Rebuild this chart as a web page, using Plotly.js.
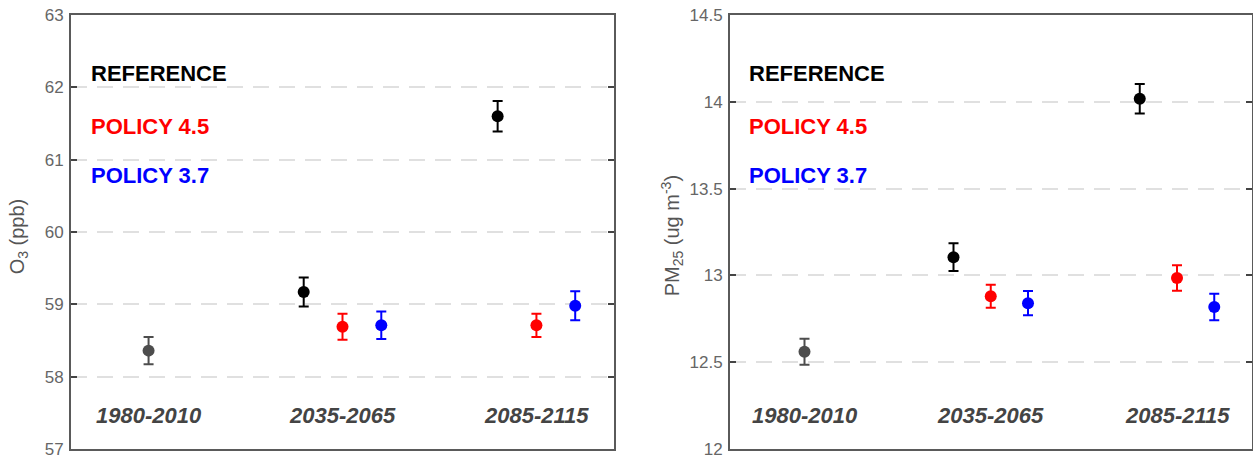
<!DOCTYPE html>
<html>
<head>
<meta charset="utf-8">
<script src="https://cdn.plot.ly/plotly-3.0.1.min.js"></script>
<style>html,body{margin:0;padding:0;background:#fff;}#chart{width:1253px;height:461px;}</style>
</head>
<body>
<div id="chart"></div>
<script>
// ---- data ----
const categories = ['1980-2010', '2035-2065', '2085-2115'];
const seriesNames = ['REFERENCE', 'POLICY 4.5', 'POLICY 3.7'];

// O3 (ppb)
const o3Baseline = 58.36;      const o3BaselineErr = 0.19;
const o3Reference = [59.17, 61.60]; const o3ReferenceErr = [0.20, 0.21];
const o3Policy45  = [58.69, 58.71]; const o3Policy45Err  = [0.18, 0.16];
const o3Policy37  = [58.71, 58.98]; const o3Policy37Err  = [0.19, 0.20];

// PM2.5 (ug m-3)
const pmBaseline = 12.56;      const pmBaselineErr = 0.075;
const pmReference = [13.105, 14.017]; const pmReferenceErr = [0.08, 0.085];
const pmPolicy45  = [12.880, 12.985]; const pmPolicy45Err  = [0.066, 0.073];
const pmPolicy37  = [12.840, 12.818]; const pmPolicy37Err  = [0.070, 0.076];

const o3Ticks = [57, 58, 59, 60, 61, 62, 63];
const pmTicks = [12, 12.5, 13, 13.5, 14, 14.5];
const pmTickText = ['12', '12.5', '13', '13.5', '14', '14.5'];

// ---- styling ----
const FONT = '"Liberation Sans", Arial, sans-serif';
const colors = {base: '#4d4d4d', ref: '#000000', p45: '#ff0000', p37: '#0000ff'};
const offsets = {ref: -0.2, p45: 0, p37: 0.2};

function pt(x, y, err, color, xa, ya, name) {
  return {
    type: 'scatter', mode: 'markers', x: x, y: y, xaxis: xa, yaxis: ya, name: name,
    showlegend: false,
    marker: {color: color, size: 12},
    error_y: {type: 'data', array: err, visible: true, color: color, thickness: 2, width: 5}
  };
}
const futureX = (off) => [2 + off, 3 + off];

const traces = [
  pt([1], [o3Baseline], [o3BaselineErr], colors.base, 'x', 'y', categories[0]),
  pt(futureX(offsets.ref), o3Reference, o3ReferenceErr, colors.ref, 'x', 'y', seriesNames[0]),
  pt(futureX(offsets.p45), o3Policy45, o3Policy45Err, colors.p45, 'x', 'y', seriesNames[1]),
  pt(futureX(offsets.p37), o3Policy37, o3Policy37Err, colors.p37, 'x', 'y', seriesNames[2]),
  pt([1], [pmBaseline], [pmBaselineErr], colors.base, 'x2', 'y2', categories[0]),
  pt(futureX(offsets.ref), pmReference, pmReferenceErr, colors.ref, 'x2', 'y2', seriesNames[0]),
  pt(futureX(offsets.p45), pmPolicy45, pmPolicy45Err, colors.p45, 'x2', 'y2', seriesNames[1]),
  pt(futureX(offsets.p37), pmPolicy37, pmPolicy37Err, colors.p37, 'x2', 'y2', seriesNames[2])
];

const W = 1253;
function xax(d0, d1, anchor) {
  return {domain: [d0, d1], anchor: anchor, range: [0.6, 3.4], showticklabels: false,
    ticks: '', showgrid: false, zeroline: false, showline: true, mirror: true,
    linecolor: '#5a5a5a', linewidth: 2, fixedrange: true};
}
function yax(range, tickvals, ticktext, anchor) {
  return {domain: [0, 1], anchor: anchor, range: range, tickvals: tickvals, ticktext: ticktext,
    ticks: 'inside', ticklen: 6, tickwidth: 2, tickcolor: '#444',
    showline: true, mirror: 'ticks', linecolor: '#5a5a5a', linewidth: 2,
    showgrid: true, gridcolor: '#e0e0e0', gridwidth: 2, griddash: '16px,10px',
    zeroline: false, ticklabelstandoff: 2,
    tickfont: {family: FONT, size: 17, color: '#666'}, fixedrange: true};
}

const annotations = [];
const labelY = [0.866, 0.744, 0.631];
const labelColors = [colors.ref, colors.p45, colors.p37];
[['x', 'y'], ['x2', 'y2']].forEach(([xa, ya]) => {
  seriesNames.forEach((s, i) => annotations.push({
    xref: xa + ' domain', yref: ya + ' domain', x: 0.033, y: labelY[i],
    xanchor: 'left', yanchor: 'middle', showarrow: false, text: '<b>' + s + '</b>',
    font: {family: FONT, size: 22, color: labelColors[i]}
  }));
  categories.forEach((c, i) => annotations.push({
    xref: xa, yref: ya + ' domain', x: i + 1, y: 0.078,
    xanchor: 'center', yanchor: 'middle', showarrow: false, text: '<b><i>' + c + '</i></b>',
    font: {family: FONT, size: 22, color: '#444'}
  }));
});
annotations.push({xref: 'paper', yref: 'paper', x: 18 / W, y: 0.49, xanchor: 'center', yanchor: 'middle',
  showarrow: false, textangle: -90, text: 'O<sub>3</sub> (ppb)', font: {family: FONT, size: 20, color: '#555'}});
annotations.push({xref: 'paper', yref: 'paper', x: 672 / W, y: 0.49, xanchor: 'center', yanchor: 'middle',
  showarrow: false, textangle: -90, text: 'PM<sub>25</sub> (ug m<sup>-3</sup>)', font: {family: FONT, size: 20, color: '#555'}});

const layout = {
  width: W, height: 461,
  margin: {l: 0, r: 0, t: 15, b: 12, pad: 0},
  paper_bgcolor: '#fff', plot_bgcolor: '#fff',
  showlegend: false,
  xaxis: xax(71 / W, 614 / W, 'y'),
  yaxis: yax([57, 63], o3Ticks, o3Ticks.map(String), 'x'),
  xaxis2: xax(730 / W, 1251.5 / W, 'y2'),
  yaxis2: yax([12, 14.5], pmTicks, pmTickText, 'x2'),
  annotations: annotations
};

Plotly.newPlot('chart', traces, layout, {displayModeBar: false, staticPlot: true});
</script>
</body>
</html>
